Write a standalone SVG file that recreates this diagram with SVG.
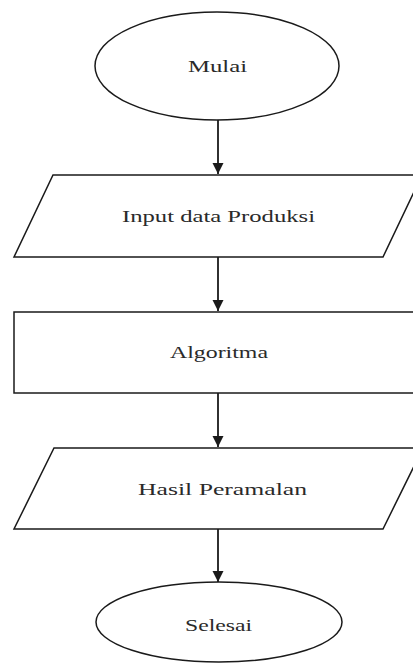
<svg xmlns="http://www.w3.org/2000/svg" width="413" height="663" viewBox="0 0 413 663">
  <style>
    .shape { fill: #ffffff; stroke: #1a1a1a; stroke-width: 1.5; }
    .edge { fill: none; stroke: #1a1a1a; stroke-width: 1.8; }
    .label { font-family: "Liberation Serif", "Times New Roman", serif; font-size: 16px; fill: #2a2a2a; }
  </style>
  <defs>
    <marker id="arrow" markerUnits="userSpaceOnUse" markerWidth="12" markerHeight="12" viewBox="0 0 12 12" refX="11" refY="6" orient="auto">
      <path d="M0,0.5 L11,6 L0,11.5 Z" fill="#1a1a1a"/>
    </marker>
  </defs>
  <rect width="413" height="663" fill="#ffffff"/>
  <g id="connectors">
    <line class="edge" x1="218" y1="120" x2="218" y2="174" marker-end="url(#arrow)"/>
    <line class="edge" x1="218" y1="257" x2="218" y2="311" marker-end="url(#arrow)"/>
    <line class="edge" x1="218" y1="393" x2="218" y2="447" marker-end="url(#arrow)"/>
    <line class="edge" x1="218" y1="529" x2="218" y2="582" marker-end="url(#arrow)"/>
  </g>
  <g id="mulai">
    <ellipse class="shape" cx="217" cy="66" rx="122" ry="54"/>
    <text class="label" x="188" y="72" textLength="59" lengthAdjust="spacingAndGlyphs">Mulai</text>
  </g>
  <g id="input">
    <polygon class="shape" points="53,175 422,175 383,257 14,257"/>
    <text class="label" x="122" y="222" textLength="193" lengthAdjust="spacingAndGlyphs">Input data Produksi</text>
  </g>
  <g id="algoritma">
    <rect class="shape" x="14" y="312" width="420" height="81"/>
    <text class="label" x="170" y="358" textLength="98" lengthAdjust="spacingAndGlyphs">Algoritma</text>
  </g>
  <g id="hasil">
    <polygon class="shape" points="54,448 423,448 383,529 14,529"/>
    <text class="label" x="138" y="495" textLength="169" lengthAdjust="spacingAndGlyphs">Hasil Peramalan</text>
  </g>
  <g id="selesai">
    <ellipse class="shape" cx="219" cy="622" rx="123" ry="40"/>
    <text class="label" x="185" y="631" textLength="67" lengthAdjust="spacingAndGlyphs">Selesai</text>
  </g>
</svg>
